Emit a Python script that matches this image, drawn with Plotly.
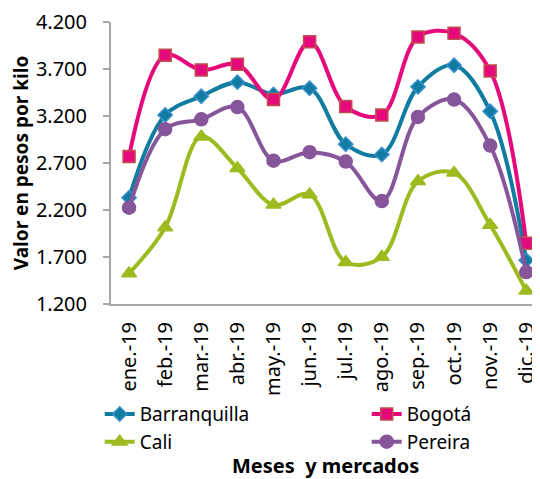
"""Precio mensual por kilo en cuatro mercados, 2019."""

import plotly.graph_objects as go

meses = ["ene.-19", "feb.-19", "mar.-19", "abr.-19", "may.-19", "jun.-19",
         "jul.-19", "ago.-19", "sep.-19", "oct.-19", "nov.-19", "dic.-19"]

barranquilla = [2330, 3210, 3410, 3560, 3430, 3495, 2900, 2790, 3510, 3740, 3250, 1665]
bogota = [2770, 3845, 3690, 3750, 3375, 3990, 3300, 3210, 4040, 4080, 3680, 1845]
cali = [1525, 2015, 2980, 2645, 2255, 2365, 1645, 1700, 2505, 2595, 2040, 1340]
pereira = [2225, 3060, 3165, 3295, 2725, 2815, 2715, 2295, 3190, 3375, 2885, 1540]

FONT = "Noto Sans"

series = [
    ("Barranquilla", barranquilla, "#0f7ca0", "diamond", 11, "#3a8fd0"),
    ("Bogotá", bogota, "#e6097b", "square", 12, "#c0504d"),
    ("Cali", cali, "#9bbb1f", "triangle-up", 13, "#9bbb1f"),
    ("Pereira", pereira, "#87559a", "circle", 13, "#87559a"),
]

fig = go.Figure()
for nombre, valores, color, simbolo, tam, borde in series:
    fig.add_trace(go.Scatter(
        x=meses,
        y=valores,
        name=nombre,
        mode="lines+markers",
        line=dict(color=color, width=4, shape="spline", smoothing=1),
        marker=dict(symbol=simbolo, size=tam, color=color,
                    line=dict(color=borde, width=1.5)),
    ))

# el body de la página tiene 8 px de margen: se compensa en tamaño y márgenes
fig.update_layout(
    width=532,
    height=471,
    margin=dict(l=103, r=0, t=14, b=175, autoexpand=False),
    plot_bgcolor="white",
    paper_bgcolor="white",
    separators=",.",
    font=dict(family=FONT, size=19, color="#000000"),
    showlegend=True,
    legend=dict(
        orientation="h",
        x=-0.0263, y=-0.323,
        xanchor="left", yanchor="top",
        entrywidth=222,
        font=dict(family=FONT, size=19),
        tracegroupgap=0,
    ),
    xaxis=dict(
        range=[-0.5, 11.38],
        showline=True,
        linecolor="#a6a6a6",
        linewidth=2,
        ticks="",
        tickangle=-90,
        tickfont=dict(size=20),
        ticklabelstandoff=8,
        ticklabeloverflow="allow",
        showgrid=False,
        automargin=False,
    ),
    yaxis=dict(
        range=[1200, 4200],
        dtick=500,
        tick0=1200,
        tickformat=",.0f",
        showline=True,
        linecolor="#a6a6a6",
        linewidth=2,
        ticks="outside",
        ticklen=6,
        tickcolor="#a6a6a6",
        tickwidth=2,
        ticklabelstandoff=12,
        ticklabeloverflow="allow",
        showgrid=False,
        zeroline=False,
        automargin=False,
        tickfont=dict(size=20),
        title=dict(text="<b>Valor en pesos por kilo</b>", font=dict(size=19), standoff=5),
    ),
    annotations=[dict(
        text="<b>Meses  y mercados</b>",
        xref="paper", yref="paper",
        x=0.5, y=-0.574,
        xanchor="center", yanchor="middle",
        showarrow=False,
        font=dict(family=FONT, size=20),
    )],
)

fig.write_html("out.html")
